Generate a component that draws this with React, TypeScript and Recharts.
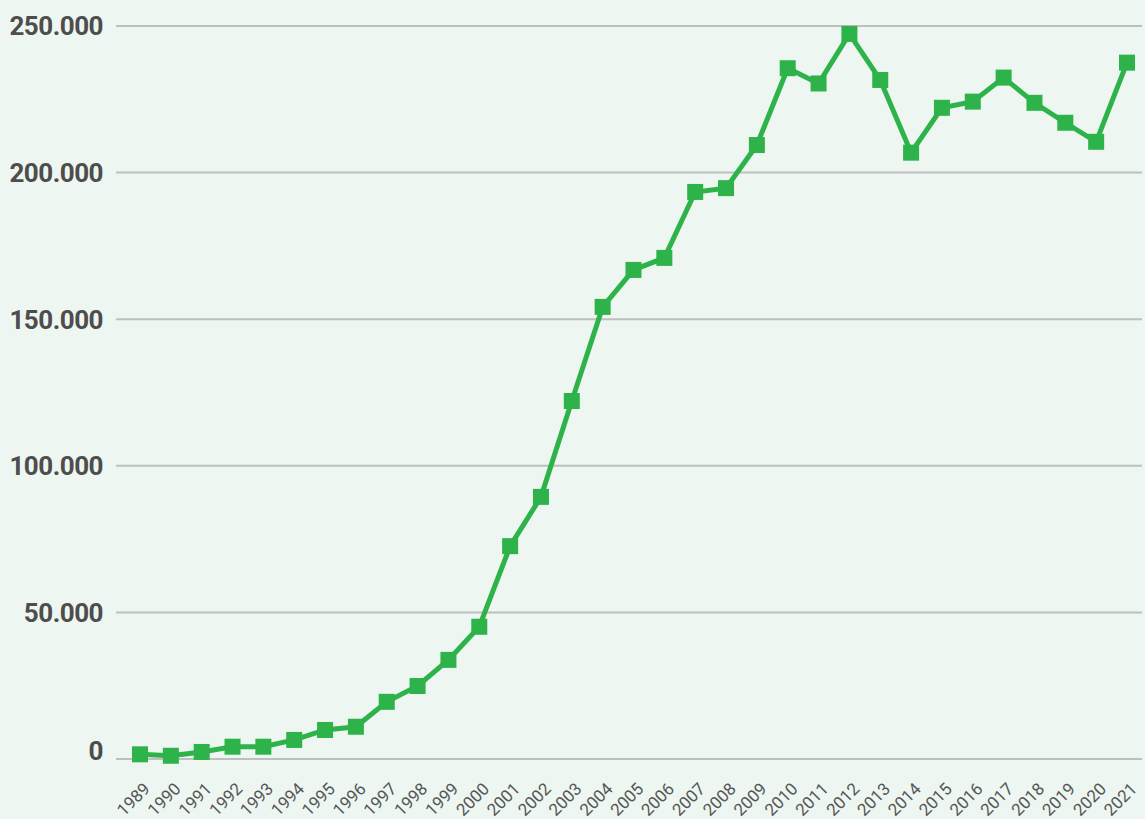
import * as React from 'react';
import { LineChart, Line, XAxis, YAxis, CartesianGrid } from 'recharts';

const years = [
  '1989', '1990', '1991', '1992', '1993', '1994', '1995', '1996', '1997', '1998', '1999',
  '2000', '2001', '2002', '2003', '2004', '2005', '2006', '2007', '2008', '2009', '2010',
  '2011', '2012', '2013', '2014', '2015', '2016', '2017', '2018', '2019', '2020', '2021',
];

const values = [
  1600, 1100, 2400, 4200, 4200, 6500, 9900, 11000, 19500, 24900, 33800,
  45100, 72600, 89400, 122100, 154200, 166800, 170900, 193400, 194700, 209400, 235600,
  230400, 247300, 231600, 206800, 222100, 224200, 232400, 223800, 217000, 210500, 237500,
];

const yTicks = [0, 50000, 100000, 150000, 200000, 250000];

const data = years.map((year, i) => ({ year, value: values[i] }));

const green = '#2db34a';
const textColor = '#4d4d4d';

const fmt = (v: number) => v.toLocaleString('de-DE');

const SquareDot = (props: any) => {
  const { cx, cy } = props;
  if (cx == null || cy == null) return null;
  return <rect x={cx - 8} y={cy - 8} width={16} height={16} fill={green} />;
};

const YTick = (props: any) => {
  const { x, y, payload } = props;
  const shift = payload.value === 0 ? -8 : 0;
  return (
    <text
      x={x - 5}
      y={y + shift}
      dy="0.36em"
      textAnchor="end"
      fill={textColor}
      fontSize={26}
      fontWeight={700}
      fontFamily="Roboto, sans-serif"
      style={{ letterSpacing: -0.5 }}
    >
      {fmt(payload.value)}
    </text>
  );
};

const XTick = (props: any) => {
  const { x, y, payload } = props;
  return (
    <g transform={`translate(${x + 11},${y + 23})`}>
      <text
        x={0}
        y={0}
        textAnchor="end"
        transform="rotate(-45)"
        fill="#555555"
        fontSize={17}
        fontFamily="Roboto, sans-serif"
      >
        {payload.value}
      </text>
    </g>
  );
};

export default function App() {
  return (
    <div style={{ position: 'absolute', left: 0, top: 0, width: 1145, height: 819, background: '#edf6f0' }}>
      <LineChart width={1145} height={819} data={data} margin={{ top: 26, right: 3, left: 0, bottom: 0 }}>
        <CartesianGrid vertical={false} stroke="#bfbfbf" strokeWidth={2} />
        <XAxis
          dataKey="year"
          axisLine={false}
          tickLine={false}
          interval={0}
          height={60}
          padding={{ left: 24, right: 15 }}
          tick={<XTick />}
        />
        <YAxis
          width={116}
          domain={[0, 250000]}
          ticks={yTicks}
          axisLine={false}
          tickLine={false}
          tick={<YTick />}
        />
        <Line
          type="linear"
          dataKey="value"
          stroke={green}
          strokeWidth={5}
          dot={<SquareDot />}
          activeDot={false}
          isAnimationActive={false}
        />
      </LineChart>
    </div>
  );
}
